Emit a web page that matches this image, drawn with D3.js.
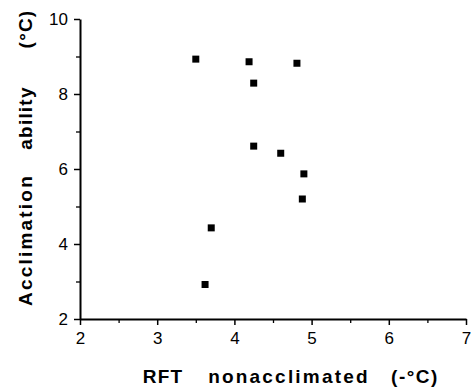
<!DOCTYPE html>
<html>
<head>
<meta charset="utf-8">
<script src="https://cdn.jsdelivr.net/npm/d3@7"></script>
<style>
  body { margin: 0; background: #fff; }
  svg { display: block; font-family: "Liberation Sans", Arial, sans-serif; }
</style>
</head>
<body>
<svg></svg>
<script>
// data
const rftValues = [3.50, 4.19, 4.81, 4.25, 4.25, 4.60, 4.90, 4.88, 3.70, 3.62]
const acclimValues = [8.93, 8.86, 8.82, 8.29, 6.61, 6.42, 5.87, 5.20, 4.43, 2.92]
const xTicks = [2, 3, 4, 5, 6, 7]
const yTicks = [2, 4, 6, 8, 10]
const xMinor = [2.5, 3.5, 4.5, 5.5, 6.5]
const yMinor = [3, 5, 7, 9]
const xTitleWords = ['RFT', 'nonacclimated', '(-°C)']
const yTitleWords = ['Acclimation', 'ability', '(°C)']

const width = 474, height = 387
const margin = {top: 19, right: 8, bottom: 68, left: 80}

const svg = d3.select('svg')
  .attr('width', width)
  .attr('height', height)

const x = d3.scaleLinear().domain([2, 7]).range([margin.left, 466])
const y = d3.scaleLinear().domain([2, 10]).range([height - margin.bottom, margin.top])

// minor ticks first
svg.append('g')
  .attr('transform', `translate(0, ${y(2)})`)
  .call(d3.axisBottom(x).tickValues(xMinor).tickSize(4).tickFormat(''))
  .call(g => g.select('.domain').remove())
  .call(g => g.selectAll('line').attr('stroke', '#000').attr('stroke-width', 1.3))

svg.append('g')
  .attr('transform', `translate(${x(2)}, 0)`)
  .call(d3.axisLeft(y).tickValues(yMinor).tickSize(4).tickFormat(''))
  .call(g => g.select('.domain').remove())
  .call(g => g.selectAll('line').attr('stroke', '#000').attr('stroke-width', 1.3))

const xAxis = svg.append('g')
  .attr('transform', `translate(0, ${y(2)})`)
  .call(d3.axisBottom(x).tickValues(xTicks).tickFormat(d3.format('d'))
    .tickSize(6).tickSizeOuter(0).tickPadding(7))
xAxis.select('.domain').attr('stroke', '#000').attr('stroke-width', 2)
xAxis.selectAll('line').attr('stroke', '#000').attr('stroke-width', 1.5)
xAxis.selectAll('text').attr('font-size', 17).attr('fill', '#000')

const yAxis = svg.append('g')
  .attr('transform', `translate(${x(2)}, 0)`)
  .call(d3.axisLeft(y).tickValues(yTicks).tickFormat(d3.format('d'))
    .tickSize(6).tickSizeOuter(0).tickPadding(6))
yAxis.select('.domain').attr('stroke', '#000').attr('stroke-width', 2)
yAxis.selectAll('line').attr('stroke', '#000').attr('stroke-width', 1.5)
yAxis.selectAll('text').attr('font-size', 17).attr('fill', '#000')

// points
const pts = rftValues.map((v, i) => ({rft: v, acc: acclimValues[i]}))
const size = 7
svg.append('g')
  .selectAll('rect')
  .data(pts)
  .join('rect')
    .attr('x', d => x(d.rft) - size / 2)
    .attr('y', d => y(d.acc) - size / 2)
    .attr('width', size)
    .attr('height', size)
    .attr('fill', '#000')

// axis titles, printed with wide word gaps, so each word is set on its own
const xWordCenter = [163, 289, 415]
const xWordSpacing = [1.2, 2.2, 1.5]
svg.append('g')
  .selectAll('text')
  .data(xTitleWords)
  .join('text')
    .attr('x', (d, i) => xWordCenter[i])
    .attr('y', 383)
    .attr('text-anchor', 'middle')
    .attr('font-size', 19)
    .attr('font-weight', 'bold')
    .attr('letter-spacing', (d, i) => xWordSpacing[i])
    .text(d => d)

const yWordCenter = [240, 118, 29]
const yWordSpacing = [2.2, 1.2, 1.2]
svg.append('g')
  .selectAll('text')
  .data(yTitleWords)
  .join('text')
    .attr('transform', (d, i) => `translate(32, ${yWordCenter[i]}) rotate(-90)`)
    .attr('text-anchor', 'middle')
    .attr('font-size', 19)
    .attr('font-weight', 'bold')
    .attr('letter-spacing', (d, i) => yWordSpacing[i])
    .text(d => d)
</script>
</body>
</html>
